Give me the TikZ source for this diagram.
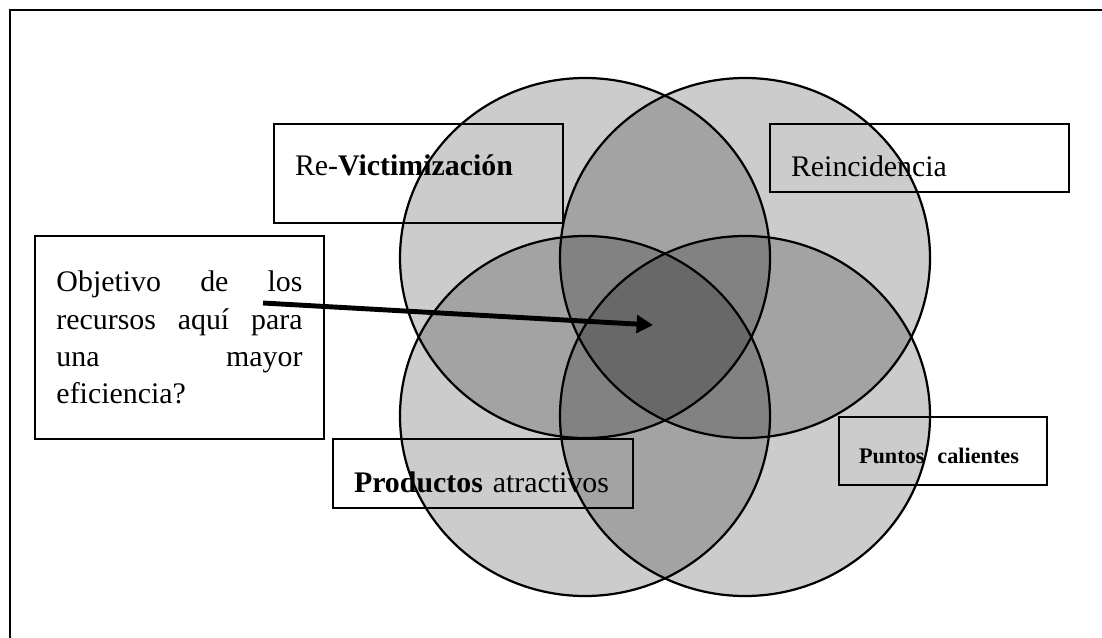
\documentclass[tikz,border=0pt]{standalone}
\usepackage{fontspec}
\setmainfont{Liberation Serif}
\usetikzlibrary{arrows.meta}
\newcommand{\tagfont}{\fontsize{25.5}{31.7}\selectfont}
\tikzset{
  every node/.style={
    text=black
  },
  tag/.style={draw, line width=1.7pt, anchor=north west, align=left, inner ysep=0pt, font=\tagfont},
  disc/.style={draw, line width=1.9pt, fill=black, fill opacity=.2}
}

\begin{document}
\begin{tikzpicture}[x=0.03cm, y=-0.03cm]
    \useasboundingbox (0,0) rectangle (1102,637);
    %\draw[gray, very thin] (0,0) grid[step=50] (1102,637);

    % frame
    \draw [line width=1.8pt] (10,660) -- (10,10) -- (1120,10);

    % labels
    \node[tag, minimum width=8.67cm, minimum height=2.97cm, inner xsep=.63cm, text width=7.41cm,
      text height=16pt, text depth=11.8pt] (vict) at (273,123) {Re-\textbf{Victimización}};
    \node[tag, minimum width=8.97cm, minimum height=2.04cm, inner xsep=.63cm, text width=7.71cm,
      text height=32.4pt, text depth=0pt] (rein) at (769,123) {Reincidencia};
    \node[tag, minimum width=8.67cm, minimum height=6.09cm, inner xsep=0pt, text width=7.38cm,
      align=justify] (goal) at (34,235)
      {Objetivo de los\linebreak recursos aquí para\linebreak una mayor\linebreak eficiencia?};
    \node[tag, minimum width=9cm, minimum height=2.07cm, inner xsep=.63cm, text width=7.74cm,
      text height=33.2pt, text depth=0pt] (prod) at (332,438) {\textbf{Productos}\ atractivos};
    \node[tag, minimum width=6.24cm, minimum height=2.04cm, inner xsep=.6cm, text width=5.04cm,
      text height=22.1pt, text depth=0pt, font=\fontsize{19}{22}\selectfont\bfseries] (spot) at (838,416)
      {\mbox{Puntos\hspace{11pt}calientes}};

    % the four sets
    \draw [disc] (585,258) ellipse [x radius=5.55cm, y radius=5.4cm];
    \draw [disc] (745,258) ellipse [x radius=5.55cm, y radius=5.4cm];
    \draw [disc] (585,416) ellipse [x radius=5.55cm, y radius=5.4cm];
    \draw [disc] (745,416) ellipse [x radius=5.55cm, y radius=5.4cm];

    \coordinate (src) at (263,303);
    \coordinate (tgt) at (653,325);
    \draw [line width=4.2pt, -{Triangle[length=14pt, width=15pt]}] (src) -- (tgt);
\end{tikzpicture}
\end{document}
